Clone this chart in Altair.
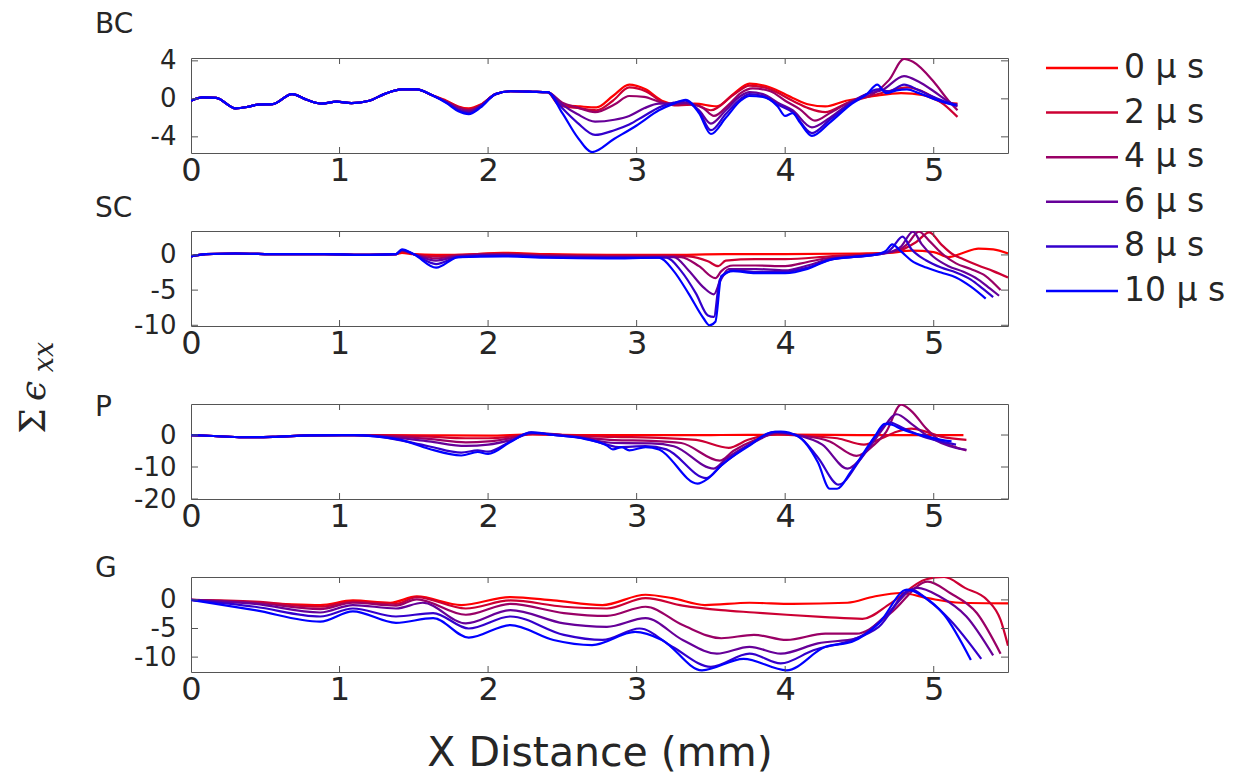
import altair as alt
import pandas as pd

SERIES = ["0 μ s", "2 μ s", "4 μ s", "6 μ s", "8 μ s", "10 μ s"]
COLORS = ["#ff0000", "#cc0033", "#990066", "#660099", "#3300cc", "#0000ff"]
X_DOMAIN = [0, 5.5]
X_TICKS = [0, 1, 2, 3, 4, 5]
X_INNER = [1, 2, 3, 4, 5]

# ---------------- BC ----------------
BC_YDOM = [-5.7, 4.3]
BC_YTICKS = [-4, 0, 4]
BC_COMMON = [(0.00, -0.2), (0.08, 0.15), (0.17, 0.1), (0.30, -1.0), (0.38, -0.85), (0.45, -0.6),
             (0.55, -0.55), (0.68, 0.5), (0.78, -0.1), (0.88, -0.5), (0.98, -0.3), (1.08, -0.45),
             (1.20, -0.2), (1.30, 0.5), (1.42, 1.0), (1.52, 1.0), (1.62, 0.4)]
BC_0 = [(1.72, -0.2), (1.80, -0.8), (1.87, -1.0), (1.95, -0.6), (2.05, 0.5), (2.15, 0.8), (2.30, 0.75),
        (2.40, 0.7), (2.48, -0.6), (2.62, -0.8), (2.73, -0.9), (2.84, 0.3), (2.95, 1.5), (3.06, 1.0),
        (3.17, -0.2), (3.28, -0.6), (3.39, -0.5), (3.54, -0.8), (3.65, 0.5), (3.76, 1.6), (3.90, 1.2),
        (4.05, 0.1), (4.16, -0.6), (4.27, -0.8), (4.41, -0.2), (4.60, 0.3), (4.78, 0.6), (4.93, 0.4),
        (5.07, -0.4), (5.16, -0.5)]
BC_2 = [(1.72, -0.25), (1.80, -0.85), (1.87, -1.1), (1.95, -0.65), (2.05, 0.5), (2.15, 0.8), (2.30, 0.75),
        (2.40, 0.7), (2.48, -0.7), (2.62, -1.0), (2.73, -1.2), (2.84, -0.2), (2.95, 1.2), (3.06, 0.8),
        (3.17, -0.3), (3.28, -0.7), (3.39, -0.6), (3.50, -1.2), (3.65, 0.4), (3.76, 1.4), (3.90, 1.0),
        (4.05, -0.2), (4.16, -1.0), (4.27, -1.4), (4.41, -0.5), (4.60, 0.4), (4.72, 0.9), (4.82, 1.2),
        (4.95, 0.6), (5.07, -0.6), (5.16, -1.9)]
BC_4 = [(1.72, -0.3), (1.80, -0.9), (1.87, -1.2), (1.95, -0.7), (2.05, 0.5), (2.15, 0.8), (2.30, 0.75),
        (2.40, 0.7), (2.50, -0.4), (2.60, -0.9), (2.72, -1.4), (2.85, -0.6), (2.95, 0.3), (3.05, 0.2),
        (3.15, -0.3), (3.25, -0.6), (3.35, -0.5), (3.45, -1.0), (3.52, -1.8), (3.62, -0.6), (3.70, 0.6),
        (3.78, 1.1), (3.90, 0.8), (4.00, -0.2), (4.10, -1.1), (4.20, -2.3), (4.30, -1.5), (4.45, -0.2),
        (4.60, 0.6), (4.70, 2.0), (4.80, 4.2), (4.86, 3.9), (5.00, 1.8), (5.10, -0.2), (5.16, -1.2)]
BC_6 = [(1.72, -0.35), (1.80, -1.1), (1.87, -1.35), (1.95, -0.75), (2.05, 0.5), (2.15, 0.8), (2.30, 0.75),
        (2.40, 0.7), (2.50, -0.6), (2.60, -1.6), (2.72, -2.4), (2.85, -2.2), (2.95, -1.8), (3.05, -1.0),
        (3.15, -0.5), (3.25, -0.5), (3.33, -0.4), (3.42, -1.2), (3.50, -2.6), (3.60, -1.2), (3.70, 0.3),
        (3.76, 0.7), (3.85, 0.5), (3.95, -0.4), (4.05, -1.2), (4.18, -3.0), (4.30, -2.0), (4.45, -0.3),
        (4.55, 0.5), (4.65, 0.9), (4.80, 2.4), (4.90, 1.8), (5.00, 0.8), (5.10, -0.3), (5.16, -0.8)]
BC_8 = [(1.72, -0.4), (1.80, -1.2), (1.87, -1.5), (1.95, -0.8), (2.05, 0.5), (2.15, 0.8), (2.30, 0.75),
        (2.40, 0.7), (2.50, -1.0), (2.60, -2.5), (2.72, -3.8), (2.85, -3.3), (2.95, -2.7), (3.05, -1.8),
        (3.15, -0.9), (3.25, -0.4), (3.33, -0.2), (3.42, -1.3), (3.50, -3.3), (3.60, -1.6), (3.70, 0.0),
        (3.76, 0.5), (3.85, 0.3), (3.95, -0.6), (4.05, -1.4), (4.18, -3.6), (4.30, -2.2), (4.45, -0.4),
        (4.55, 0.5), (4.62, 1.0), (4.70, 0.8), (4.80, 1.5), (4.90, 0.9), (5.00, 0.2), (5.10, -0.4),
        (5.16, -0.6)]
BC_10 = [(1.72, -0.45), (1.80, -1.3), (1.87, -1.6), (1.95, -0.9), (2.05, 0.5), (2.15, 0.8), (2.30, 0.75),
         (2.40, 0.7), (2.50, -1.5), (2.60, -4.0), (2.70, -5.6), (2.85, -4.2), (3.00, -2.8), (3.15, -1.2),
         (3.25, -0.5), (3.33, -0.1), (3.42, -1.5), (3.50, -3.7), (3.60, -2.0), (3.70, -0.2), (3.76, 0.3),
         (3.85, 0.2), (3.95, -0.8), (4.00, -1.8), (4.05, -1.5), (4.10, -2.5), (4.18, -3.9), (4.30, -2.5),
         (4.45, -0.5), (4.55, 0.5), (4.62, 1.5), (4.68, 0.6), (4.75, 0.9), (4.82, 1.0), (4.90, 0.6),
         (5.00, 0.0), (5.10, -0.5), (5.15, -0.7)]

# ---------------- SC ----------------
SC_YDOM = [-10.1, 3.4]
SC_YTICKS = [-10, -5, 0]
SC_COMMON = [(0.00, -0.2), (0.10, 0.1), (0.30, 0.2), (0.60, 0.1), (0.90, 0.1), (1.20, 0.0), (1.38, 0.1)]
SC_0 = [(1.42, 0.3), (1.50, 0.1), (1.65, 0.0), (1.80, 0.0), (2.10, 0.3), (2.40, 0.1), (2.80, 0.0),
        (3.20, 0.0), (3.60, 0.1), (4.00, 0.1), (4.50, 0.2), (4.70, 0.3), (4.85, 0.6), (5.00, 0.4),
        (5.10, -0.3), (5.20, 0.3), (5.30, 0.9), (5.40, 0.8), (5.50, 0.2)]
SC_2 = [(1.42, 0.5), (1.50, 0.1), (1.65, -0.2), (1.80, 0.0), (2.10, 0.2), (2.40, 0.0), (2.80, -0.1),
        (3.20, -0.1), (3.35, -0.2), (3.48, -0.9), (3.55, -1.6), (3.60, -0.8), (3.80, -0.6), (4.00, -0.6),
        (4.30, -0.2), (4.60, 0.2), (4.75, 0.5), (4.88, 1.8), (4.97, 3.2), (5.05, 1.5), (5.12, 0.2),
        (5.20, -0.6), (5.30, -1.5), (5.40, -2.3), (5.50, -3.2)]
SC_4 = [(1.42, 0.6), (1.50, 0.1), (1.65, -0.5), (1.80, -0.1), (2.10, 0.1), (2.40, -0.1), (2.80, -0.2),
        (3.20, -0.2), (3.30, -0.3), (3.42, -1.6), (3.53, -3.3), (3.57, -2.3), (3.65, -1.5), (3.80, -1.5),
        (4.00, -1.6), (4.15, -1.0), (4.30, -0.4), (4.60, 0.1), (4.75, 0.6), (4.82, 1.5), (4.90, 3.3),
        (4.97, 2.0), (5.05, 0.3), (5.15, -1.2), (5.25, -2.0), (5.35, -3.0), (5.45, -5.0)]
SC_6 = [(1.42, 0.7), (1.50, 0.1), (1.65, -0.8), (1.80, -0.2), (2.10, 0.0), (2.40, -0.2), (2.80, -0.3),
        (3.25, -0.3), (3.35, -2.2), (3.45, -4.6), (3.52, -5.6), (3.56, -3.8), (3.62, -2.0), (3.80, -2.0),
        (4.00, -2.2), (4.15, -1.5), (4.30, -0.6), (4.60, 0.0), (4.72, 0.5), (4.78, 1.2), (4.86, 3.3),
        (4.92, 1.5), (5.00, -0.3), (5.10, -1.6), (5.20, -2.4), (5.30, -3.5), (5.38, -4.8), (5.44, -5.8)]
SC_8 = [(1.42, 0.7), (1.50, 0.1), (1.65, -1.3), (1.80, -0.3), (2.10, -0.1), (2.40, -0.3), (2.80, -0.4),
        (3.20, -0.4), (3.30, -2.3), (3.40, -5.5), (3.48, -8.6), (3.52, -8.8), (3.56, -3.5), (3.65, -2.2),
        (3.80, -2.4), (4.00, -2.4), (4.15, -1.8), (4.30, -0.7), (4.55, -0.1), (4.68, 0.3), (4.72, 1.0),
        (4.79, 2.6), (4.85, 0.8), (4.95, -0.8), (5.05, -1.8), (5.15, -2.5), (5.25, -3.5), (5.33, -4.8),
        (5.40, -6.0)]
SC_10 = [(1.42, 0.8), (1.50, 0.1), (1.65, -1.8), (1.80, -0.3), (2.10, -0.2), (2.40, -0.4), (2.80, -0.5),
         (3.15, -0.4), (3.25, -2.3), (3.35, -5.5), (3.45, -9.0), (3.49, -10.0), (3.53, -9.5), (3.57, -3.0),
         (3.65, -2.3), (3.80, -2.6), (4.00, -2.6), (4.15, -2.0), (4.30, -0.7), (4.45, -0.3), (4.60, 0.0),
         (4.68, 0.6), (4.72, 1.5), (4.78, 0.5), (4.85, -0.8), (4.95, -1.8), (5.05, -2.5), (5.15, -3.2),
         (5.25, -4.5), (5.35, -6.2)]

# ---------------- P ----------------
P_YDOM = [-20.0, 9.7]
P_YTICKS = [-20, -10, 0]
P_COMMON = [(0.00, 0.0), (0.15, -0.3), (0.35, -0.7), (0.55, -0.6), (0.80, -0.1), (1.10, 0.0)]
P_0 = [(1.25, 0.0), (1.60, -0.1), (2.00, -0.2), (2.30, 0.2), (2.60, 0.0), (3.00, 0.0), (3.50, 0.0),
       (4.00, 0.1), (4.50, 0.0), (4.80, 0.0), (5.00, 0.0), (5.20, 0.0)]
P_2 = [(1.25, -0.1), (1.60, -0.5), (1.85, -1.0), (2.00, -1.0), (2.15, -0.5), (2.30, 0.3), (2.50, 0.0),
       (2.85, -0.6), (3.10, -0.8), (3.40, -1.5), (3.62, -4.0), (3.75, -1.5), (3.95, 0.2), (4.10, -0.2),
       (4.35, -1.0), (4.53, -3.0), (4.65, -1.0), (4.75, 1.0), (4.85, 2.0), (4.95, 1.0), (5.05, -0.5),
       (5.22, -1.5)]
P_4 = [(1.25, -0.2), (1.60, -1.2), (1.85, -2.3), (2.00, -2.0), (2.15, -1.0), (2.30, 0.5), (2.50, 0.0),
       (2.65, -0.8), (2.85, -1.6), (3.10, -1.8), (3.30, -2.5), (3.56, -8.0), (3.65, -5.0), (3.80, -1.5),
       (3.95, 0.6), (4.08, 0.0), (4.30, -2.0), (4.48, -6.5), (4.60, -3.0), (4.68, 1.0), (4.78, 9.5),
       (4.85, 7.5), (4.95, 2.0), (5.05, -2.0), (5.15, -3.8), (5.22, -4.8)]
P_6 = [(1.25, -0.3), (1.60, -2.0), (1.85, -3.4), (2.00, -3.0), (2.15, -1.6), (2.30, 0.6), (2.50, 0.0),
       (2.65, -1.0), (2.85, -2.5), (3.10, -2.6), (3.25, -3.5), (3.52, -10.5), (3.60, -7.5), (3.80, -2.0),
       (3.95, 0.8), (4.08, 0.0), (4.25, -3.0), (4.42, -10.5), (4.55, -5.0), (4.65, 1.5), (4.75, 6.5),
       (4.85, 3.5), (4.95, 0.0), (5.05, -2.5), (5.15, -4.0), (5.22, -4.6)]
P_8 = [(1.25, -0.4), (1.60, -3.5), (1.82, -5.5), (1.93, -4.8), (2.00, -5.2), (2.15, -2.0), (2.29, 0.8),
       (2.44, 0.0), (2.65, -1.1), (2.80, -3.0), (2.88, -3.8), (3.06, -3.5), (3.20, -4.5), (3.47, -13.5),
       (3.57, -9.5), (3.76, -3.0), (3.93, 1.0), (4.08, -0.2), (4.22, -7.0), (4.36, -15.5), (4.50, -8.0),
       (4.62, 0.5), (4.70, 4.0), (4.80, 2.0), (4.93, -0.5), (5.05, -2.0), (5.15, -3.0)]
P_10 = [(1.25, -0.5), (1.42, -1.6), (1.60, -4.3), (1.82, -6.4), (1.93, -5.3), (2.00, -5.9), (2.15, -2.2),
        (2.29, 0.8), (2.44, 0.0), (2.65, -1.2), (2.80, -3.3), (2.84, -4.5), (2.90, -3.8), (2.95, -4.8),
        (3.06, -3.8), (3.15, -4.5), (3.41, -15.2), (3.48, -13.6), (3.57, -9.5), (3.76, -3.3), (3.90, 0.8),
        (3.97, 1.1), (4.08, -0.2), (4.22, -8.5), (4.30, -16.8), (4.35, -16.8), (4.44, -11.6), (4.60, -0.7),
        (4.67, 3.5), (4.72, 3.2), (4.78, 1.9), (4.93, -0.2), (5.05, -1.5), (5.12, -2.0)]

# ---------------- G ----------------
G_YDOM = [-12.6, 4.0]
G_YTICKS = [-10, -5, 0]
G_COMMON = [(0.0, 0.0)]
G_0 = [(0.24, -0.3), (0.61, -0.7), (0.87, -0.9), (1.09, -0.1), (1.34, -0.5), (1.52, 0.6), (1.82, -0.9),
       (2.15, 0.5), (2.44, -0.1), (2.77, -0.9), (3.06, 0.9), (3.24, 0.3), (3.46, -0.9), (3.76, -0.5),
       (4.05, -0.7), (4.42, -0.5), (4.60, 0.6), (4.78, 1.2), (4.96, 0.3), (5.18, -0.5), (5.50, -0.6)]
G_2 = [(0.43, -0.3), (0.87, -1.2), (1.09, -0.3), (1.38, -0.7), (1.52, 0.5), (1.85, -1.5), (2.15, -0.1),
       (2.51, -1.2), (2.80, -1.5), (3.06, 0.3), (3.31, -1.0), (3.57, -1.8), (3.79, -2.2), (4.01, -2.6),
       (4.27, -3.0), (4.52, -3.3), (4.71, -0.6), (4.95, 3.6), (5.07, 4.0), (5.21, 2.1), (5.36, 0.0),
       (5.45, -3.5), (5.50, -8.0)]
G_4 = [(0.43, -0.5), (0.87, -1.6), (1.09, -0.5), (1.38, -1.0), (1.52, 0.1), (1.85, -2.6), (2.15, -0.7),
       (2.51, -2.3), (2.80, -2.8), (3.06, -1.2), (3.31, -4.4), (3.57, -6.7), (3.79, -6.1), (4.01, -7.0),
       (4.27, -5.9), (4.48, -5.9), (4.71, -2.3), (4.96, 3.2), (5.11, 1.2), (5.29, -2.3), (5.45, -9.4)]
G_6 = [(0.43, -0.7), (0.87, -2.2), (1.09, -0.9), (1.38, -1.5), (1.56, -0.5), (1.85, -4.1), (2.15, -1.8),
       (2.51, -4.1), (2.80, -4.7), (3.06, -3.2), (3.31, -7.0), (3.54, -9.4), (3.76, -8.2), (3.97, -9.4),
       (4.22, -7.6), (4.48, -6.7), (4.67, -2.9), (4.89, 2.1), (5.04, 0.6), (5.22, -2.9), (5.40, -9.7)]
G_8 = [(0.43, -1.2), (0.87, -2.9), (1.09, -1.5), (1.38, -2.9), (1.63, -2.3), (1.87, -5.0), (2.15, -2.9),
       (2.51, -6.1), (2.77, -7.0), (3.02, -5.0), (3.24, -8.2), (3.50, -11.7), (3.76, -9.4), (3.97, -11.1),
       (4.19, -8.8), (4.45, -7.0), (4.63, -4.7), (4.85, 1.8), (4.96, 0.0), (5.11, -3.5), (5.32, -10.3)]
G_10 = [(0.43, -1.8), (0.87, -3.8), (1.09, -2.0), (1.38, -4.0), (1.63, -3.2), (1.87, -6.6), (2.15, -4.4),
        (2.44, -7.0), (2.70, -7.9), (2.99, -5.6), (3.17, -7.0), (3.44, -12.3), (3.72, -10.3), (4.01, -12.3),
        (4.27, -8.2), (4.45, -7.3), (4.63, -4.1), (4.82, 1.8), (4.93, 0.6), (5.07, -2.6), (5.25, -10.5)]

FONT = "DejaVu Sans"
TXT = "#262626"
W, H = 817, 95
COLOR_SCALE = alt.Scale(domain=SERIES, range=COLORS)


def panel_df(common, tails):
    rows = []
    for k, tail in enumerate(tails):
        for i, (x, y) in enumerate(common + tail):
            rows.append({"x": x, "y": y, "s": SERIES[k], "k": k, "i": i})
    return pd.DataFrame(rows)


def panel(name, common, tails, ydom, yticks, label_dy, last=False, extra=None):
    df = panel_df(common, tails)
    xaxis = alt.Axis(values=X_TICKS, labelExpr="'' + datum.value", labelFontSize=32, labelFont=FONT,
                     labelColor=TXT, labelPadding=2, tickSize=0, domain=False, grid=False,
                     labelFlush=False, labelOverlap=False, title="X Distance (mm)" if last else "",
                     titleFontSize=41, titleFont=FONT, titleColor=TXT, titleFontWeight="normal",
                     titlePadding=28)
    yaxis = alt.Axis(values=yticks, labelExpr="'' + datum.value", labelFontSize=26, labelFont=FONT,
                     labelColor=TXT, labelPadding=15, tickSize=0, domain=False, grid=False,
                     labelOverlap=False, labelFlush=False, title="")
    xs = alt.Scale(domain=X_DOMAIN, nice=False, zero=False)
    ys = alt.Scale(domain=ydom, nice=False, zero=False)
    X = alt.X("x:Q", scale=xs, axis=xaxis)
    Y = alt.Y("y:Q", scale=ys, axis=yaxis)
    lines = alt.Chart(df).mark_line(strokeWidth=2.2, interpolate="monotone", clip=True).encode(
        x=X, y=Y,
        color=alt.Color("s:N", scale=COLOR_SCALE, legend=None),
        order=alt.Order("i:Q"),
        detail="k:N",
    )
    xt = pd.DataFrame({"x": X_INNER})
    yt = pd.DataFrame({"y": yticks})
    tick_style = dict(color="#555555", strokeWidth=1)
    xt_top = alt.Chart(xt).mark_rule(**tick_style).encode(x=X, y=alt.value(0), y2=alt.value(6))
    xt_bot = alt.Chart(xt).mark_rule(**tick_style).encode(x=X, y=alt.value(H), y2=alt.value(H - 6))
    yt_l = alt.Chart(yt).mark_rule(**tick_style).encode(y=Y, x=alt.value(0), x2=alt.value(7))
    yt_r = alt.Chart(yt).mark_rule(**tick_style).encode(y=Y, x=alt.value(W), x2=alt.value(W - 7))
    lab = alt.Chart(pd.DataFrame({"t": [name]})).mark_text(
        align="left", baseline="middle", fontSize=28, font=FONT, color=TXT).encode(
        text="t:N", x=alt.value(-96), y=alt.value(label_dy))
    ch = alt.layer(lines, xt_top, xt_bot, yt_l, yt_r, lab)
    if extra is not None:
        ch = alt.layer(ch, *extra).resolve_scale(y="independent")
    return ch.properties(width=W, height=H)


# y-axis title pieces (drawn in the P panel)
ytitle = [
    alt.Chart(pd.DataFrame({"t": ["Σ"]})).mark_text(
        angle=270, align="center", baseline="alphabetic", fontSize=36, font="DejaVu Serif",
        color=TXT).encode(text="t:N", x=alt.value(-146), y=alt.value(17)),
    alt.Chart(pd.DataFrame({"t": ["ϵ"]})).mark_text(
        angle=270, align="center", baseline="alphabetic", fontSize=36, font="DejaVu Serif",
        fontStyle="italic", color=TXT).encode(text="t:N", x=alt.value(-146), y=alt.value(-13)),
    alt.Chart(pd.DataFrame({"t": ["xx"]})).mark_text(
        angle=270, align="center", baseline="alphabetic", fontSize=27, font="DejaVu Serif",
        fontStyle="italic", color=TXT).encode(text="t:N", x=alt.value(-138), y=alt.value(-47)),
]
ytitle_layer = alt.layer(*ytitle)

# legend drawn inside the BC panel's layer, rows positioned through a point scale
leg_df = pd.DataFrame({"s": SERIES})
leg_y = alt.Y("s:N", sort=SERIES, scale=alt.Scale(type="point", range=[10, 233], padding=0), axis=None)
leg_rule = alt.Chart(leg_df).mark_rule(strokeWidth=2.5).encode(
    y=leg_y, x=alt.value(W + 38), x2=alt.value(W + 110),
    color=alt.Color("s:N", scale=COLOR_SCALE, legend=None))
leg_text = alt.Chart(leg_df).mark_text(align="left", baseline="middle", fontSize=33, font=FONT,
                                       color=TXT).encode(y=leg_y, x=alt.value(W + 116), text="s:N")
legend_layer = alt.layer(leg_rule, leg_text)

bc = panel("BC", BC_COMMON, [BC_0, BC_2, BC_4, BC_6, BC_8, BC_10], BC_YDOM, BC_YTICKS, -33,
           extra=[legend_layer])
sc = panel("SC", SC_COMMON, [SC_0, SC_2, SC_4, SC_6, SC_8, SC_10], SC_YDOM, SC_YTICKS, -22)
pp = panel("P", P_COMMON, [P_0, P_2, P_4, P_6, P_8, P_10], P_YDOM, P_YTICKS, 4, extra=[ytitle_layer])
gg = panel("G", G_COMMON, [G_0, G_2, G_4, G_6, G_8, G_10], G_YDOM, G_YTICKS, -8, last=True)

chart = alt.vconcat(bc, sc, pp, gg, spacing=78, bounds="flush").properties(
    padding={"left": 15, "top": 10, "right": 5, "bottom": 5}, background="white"
).configure_view(stroke="#555555", strokeWidth=1)

chart.save("out.html", embed_options={"renderer": "svg", "actions": False})
